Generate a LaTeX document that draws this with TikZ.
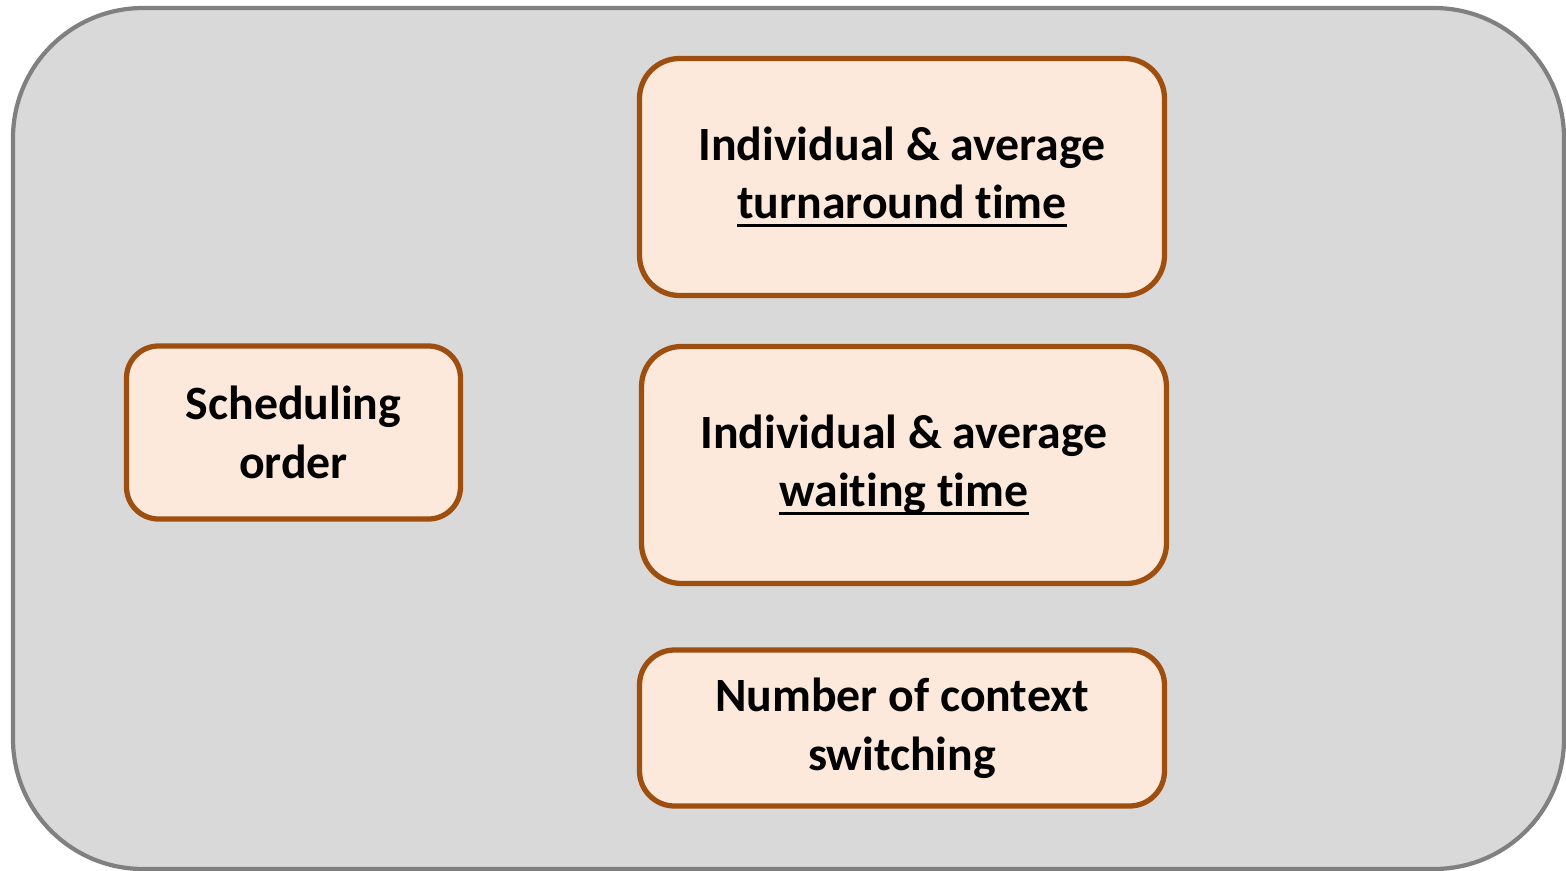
\documentclass[tikz,border=0pt]{standalone}
\usepackage{fontspec}
\setmainfont[Ligatures=NoCommon]{Carlito}
\usepackage{tikz}
\usetikzlibrary{positioning}
\definecolor{boxfill}{HTML}{FCE9DB}
\definecolor{boxline}{HTML}{9E4F10}
\definecolor{panelfill}{HTML}{D9D9D9}
\definecolor{panelline}{HTML}{808080}
\newcommand{\undl}[1]{\setbox0\hbox{#1}\rlap{\rule[-2.4pt]{\wd0}{0.9pt}}\box0}

\begin{document}
\begin{tikzpicture}[panel/.style = {fill=panelfill, draw=panelline, line width=1.2pt, rounded corners=1.3cm},
	metric/.style = {align=center, inner sep=1pt, text centered, font=\fontsize{13.6}{16.7}\selectfont\bfseries,
		fill=boxfill, draw=boxline, line width=1.5pt, rounded corners=0.4cm, minimum width=5.25cm, minimum height=2.37cm},
	]
	\useasboundingbox (0,0) rectangle (15.66,-8.71);
	\draw [panel] (0.13,-0.08) rectangle (15.64,-8.69);
	\node [metric] (turnaround) at (9.02,-1.77) {Individual \& average\\\undl{turnaround time}};
	\node [metric] (waiting) at (9.04,-4.65) {Individual \& average\\\undl{waiting time}};
	\node [metric, minimum height=1.56cm, rounded corners=0.35cm] (context) at (9.02,-7.28) {Number of context\\switching};
	\node [metric, minimum width=3.34cm, minimum height=1.73cm, rounded corners=0.32cm] (order) at (2.935,-4.325) {Scheduling\\order};
\end{tikzpicture}
\end{document}
